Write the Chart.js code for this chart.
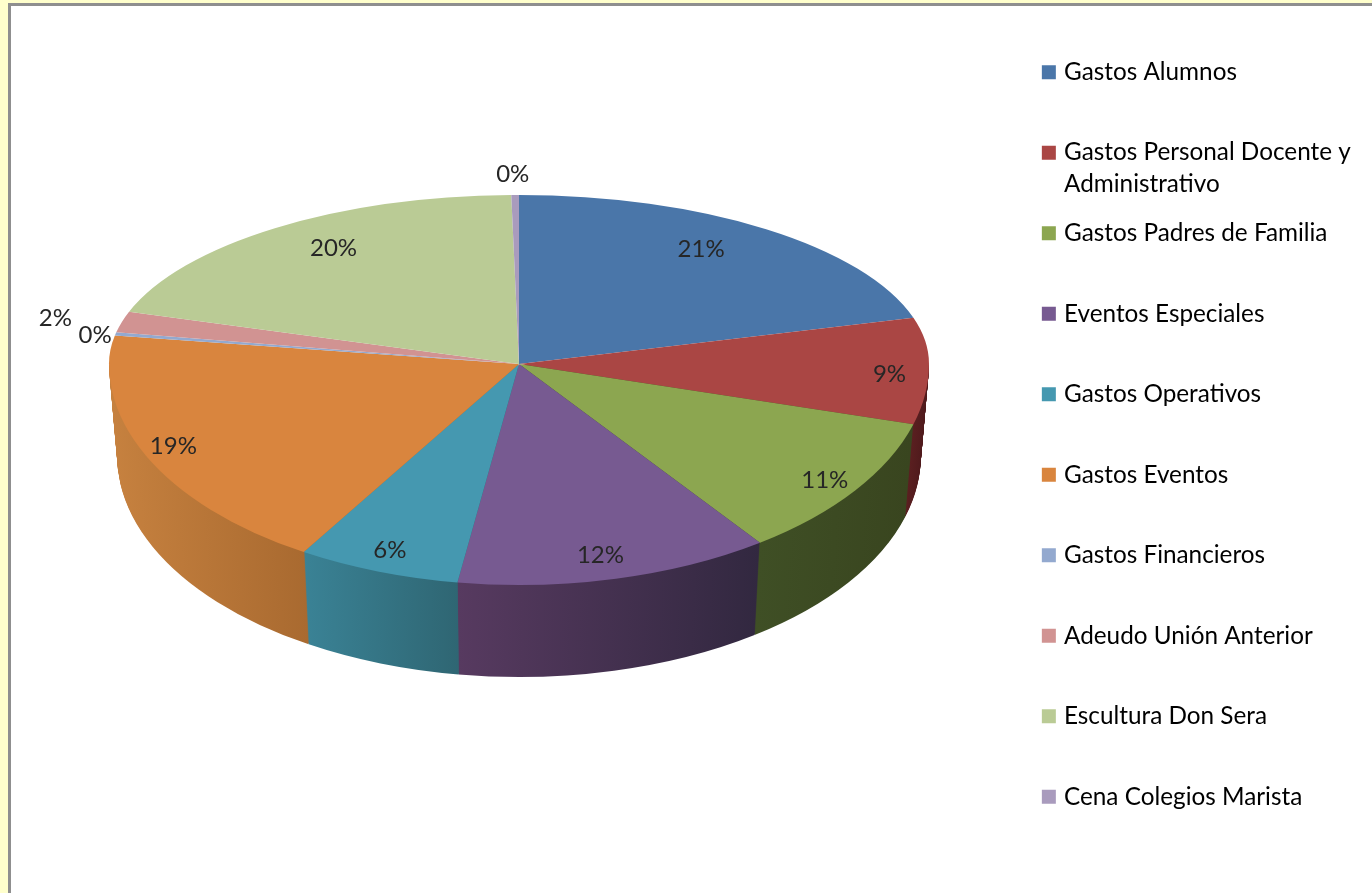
<!DOCTYPE html>
<html>
<head>
<meta charset="utf-8">
<title>Gastos</title>
<script src="https://cdn.jsdelivr.net/npm/chart.js@4"></script>
<style>
  html, body { margin: 0; padding: 0; background: #ffffcc; overflow: hidden; }
  #frame { position: absolute; left: 8px; top: 3px; width: 1364px; height: 890px; box-sizing: border-box;
           background: #fff; border-left: 3px solid #8f8f8f; border-top: 3px solid #8f8f8f; }
  #myChart { position: absolute; left: 0; top: 0; }
</style>
</head>
<body>
<div id="frame"></div>
<canvas id="myChart" width="1372" height="893"></canvas>
<script>
const categories = ['Gastos Alumnos', 'Gastos Personal Docente y|Administrativo', 'Gastos Padres de Familia',
  'Eventos Especiales', 'Gastos Operativos', 'Gastos Eventos', 'Gastos Financieros',
  'Adeudo Unión Anterior', 'Escultura Don Sera', 'Cena Colegios Marista'];
const values = [20.6, 8.8, 10.6, 12.4, 6.4, 18.9, 0.3, 2.0, 19.7, 0.3];

const topColors = ['#4a76a9', '#aa4644', '#8ca650', '#775a91', '#4598b0', '#d9853e', '#93a9cf', '#d19392', '#bacb95', '#a99bbd'];
const wallLeft = ['#34547a', '#5a1f20', '#3f4f25', '#573a60', '#3a8295', '#c6813f', '#6b7d99', '#a06f6e', '#8a9a6c', '#7c7090'];
const wallRight = ['#2a4363', '#4f1a1c', '#39451f', '#322840', '#2f6673', '#a96a30', '#5d6d87', '#8c6060', '#788760', '#6c6180'];

// where the pie ends up on the page, Chart.js only knows it as a circle
const PIE = {cx: 519, cy: 364, rx: 410, up: 169, down: 221, depth: 92, shrink: 0.02};
// percents sit at 85% of the radius, then get nudged by hand
const labelOut = 0.85;
const labelNudge = [[-28, 0], [22, 10], [20, 9], [-1, 9], [-9, 10], [-28, 5], [-81, -3], [-126, -10], [22, 0], [-3, -46]];

const total = values.reduce((a, b) => a + b, 0);

function wallGradient(ctx, arc, color1, color2) {
  let lo = 1, hi = -1;
  for (let i = 0; i <= 20; i++) {
    let c = Math.cos(arc.startAngle + (arc.endAngle - arc.startAngle) * i / 20);
    lo = Math.min(lo, c);
    hi = Math.max(hi, c);
  }
  const g = ctx.createLinearGradient(arc.x + lo * arc.outerRadius, 0, arc.x + hi * arc.outerRadius, 0);
  g.addColorStop(0, color1);
  g.addColorStop(1, color2);
  return g;
}

function placed(ctx, arc, sx, sy, dy) {
  ctx.translate(PIE.cx, PIE.cy + dy);
  ctx.scale(sx / arc.outerRadius, sy / arc.outerRadius);
  ctx.translate(-arc.x, -arc.y);
}

const squashPie = {
  id: 'squashPie',
  afterLayout(chart) {
    // legend sits at a fixed place, it does not take room from the pie
    const lg = chart.legend;
    lg.left = 1029.35;
    lg.top = 43.5;
    lg.right = 1372;
    lg.bottom = 893;
  },
  beforeDatasetsDraw(chart) {
    const ctx = chart.ctx;
    const arcs = chart.getDatasetMeta(0).data;

    // side of the pie, layers from the bottom up
    for (let d = PIE.depth; d > 0; d--) {
      const s = 1 - PIE.shrink * d / PIE.depth;
      arcs.forEach((arc, i) => {
        const saved = arc.options;
        ctx.save();
        ctx.beginPath();
        ctx.rect(0, PIE.cy + d, chart.width, chart.height);
        ctx.clip();
        placed(ctx, arc, PIE.rx * s, PIE.down, d);
        arc.options = Object.create(saved, {
          backgroundColor: {value: wallGradient(ctx, arc, wallLeft[i], wallRight[i])}
        });
        arc.draw(ctx);
        arc.options = saved;
        ctx.restore();
      });
    }

    // top face, the part behind the centre is flatter than the front
    [[0, PIE.cy, PIE.up], [PIE.cy, chart.height, PIE.down]].forEach(part => {
      ctx.save();
      ctx.beginPath();
      ctx.rect(0, part[0], chart.width, part[1] - part[0]);
      ctx.clip();
      arcs.forEach(arc => {
        ctx.save();
        placed(ctx, arc, PIE.rx, part[2], 0);
        arc.draw(ctx);
        ctx.restore();
      });
      ctx.restore();
    });

    // percents
    ctx.save();
    ctx.font = '24px Lato';
    ctx.fillStyle = '#262626';
    ctx.textAlign = 'center';
    ctx.textBaseline = 'middle';
    arcs.forEach((arc, i) => {
      const mid = (arc.startAngle + arc.endAngle) / 2;
      const sn = Math.sin(mid);
      const x = PIE.cx + Math.cos(mid) * PIE.rx * labelOut + labelNudge[i][0];
      const y = PIE.cy + sn * (sn < 0 ? PIE.up : PIE.down) * labelOut + labelNudge[i][1];
      ctx.fillText(Math.round(values[i] / total * 100) + '%', x, y);
    });
    ctx.restore();
    return false;
  }
};

const myChart = new Chart(document.getElementById('myChart').getContext('2d'), {
  type: 'pie',
  data: {
    labels: categories,
    datasets: [{
      data: values,
      backgroundColor: topColors,
      borderWidth: 0
    }]
  },
  options: {
    responsive: false,
    animation: false,
    devicePixelRatio: 1,
    plugins: {
      tooltip: {enabled: false},
      legend: {
        position: 'right',
        align: 'start',
        labels: {
          color: '#262626',
          font: {family: 'Lato', size: 24.3, lineHeight: 1.317},
          // small box with a fat stroke, that brings the text closer to it
          boxWidth: 6,
          boxHeight: 6,
          padding: 16.5,
          // every item two lines high, so the rows stay evenly spaced
          generateLabels(chart) {
            return categories.map((c, i) => {
              const parts = c.split('|');
              return {text: [parts[0], parts[1] || ''], fillStyle: topColors[i], strokeStyle: topColors[i], lineWidth: 8, index: i};
            });
          }
        }
      }
    }
  },
  plugins: [squashPie]
});
</script>
</body>
</html>
